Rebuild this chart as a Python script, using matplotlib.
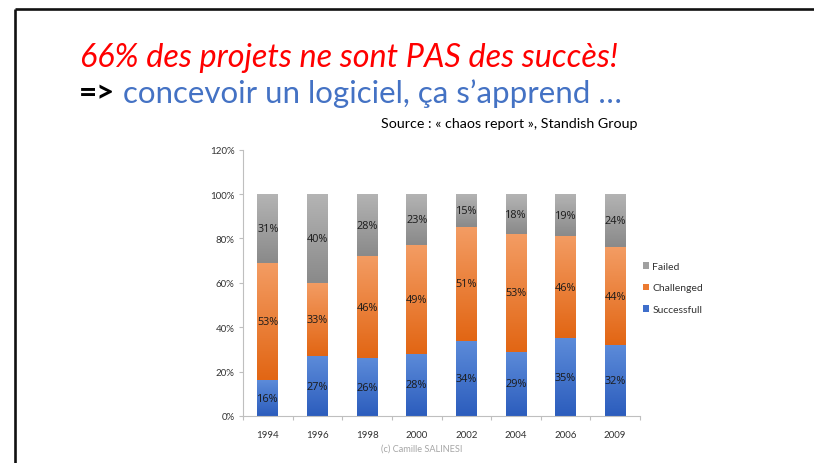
import matplotlib
matplotlib.use("Agg")
import matplotlib.pyplot as plt
import numpy as np
from matplotlib.lines import Line2D
from matplotlib.patches import Patch
from matplotlib.colors import LinearSegmentedColormap

years = ["1994", "1996", "1998", "2000", "2002", "2004", "2006", "2009"]
successful = [16, 27, 26, 28, 34, 29, 35, 32]
challenged = [53, 33, 46, 49, 51, 53, 46, 44]
failed = [31, 40, 28, 23, 15, 18, 19, 24]
series_names = ["Successfull", "Challenged", "Failed"]
yticks = [0, 20, 40, 60, 80, 100, 120]

FONT = "Lato"
plt.rcParams["font.family"] = [FONT, "DejaVu Sans"]

W, H = 814, 464
fig = plt.figure(figsize=(W / 100, H / 100), dpi=100)
fig.patch.set_facecolor("white")

# slide frame
lw = 1.9
fig.add_artist(Line2D([15 / W, 1.0], [1 - 9.5 / H, 1 - 9.5 / H], transform=fig.transFigure,
                      color="#111111", lw=lw, solid_capstyle="butt"))
fig.add_artist(Line2D([15 / W, 15 / W], [1 - 9.5 / H, 0.0], transform=fig.transFigure,
                      color="#111111", lw=lw, solid_capstyle="butt"))

ax = fig.add_axes([243 / W, (H - 417) / H, 397 / W, (417 - 150.7) / H])

x = np.arange(len(years))
s = np.array(successful) / 100
c = np.array(challenged) / 100
f = np.array(failed) / 100
bw = 0.42

grads = [("#5C8BD9", "#2C5DBD"), ("#F39C63", "#E26614"), ("#B4B4B4", "#8A8A8A")]
solid = ["#3F6FCB", "#EC7A30", "#A0A0A0"]
bottoms = [np.zeros_like(s), s, s + c]
vals = [s, c, f]
for vi, (v, b, (top, bot), sc) in enumerate(zip(vals, bottoms, grads, solid)):
    bars = ax.bar(x, v, bw, bottom=b, color=sc, edgecolor="none", zorder=2)
    cmap = LinearSegmentedColormap.from_list("g", [bot, top])
    grad = np.linspace(0, 1, 64).reshape(-1, 1)
    for rect, val, bb in zip(bars, v, b):
        x0 = rect.get_x()
        im = ax.imshow(grad, cmap=cmap, origin="lower", aspect="auto",
                       extent=[x0, x0 + rect.get_width(), bb, bb + val], zorder=2.5,
                       interpolation="bilinear")
        im.set_clip_path(rect)
        ax.text(rect.get_x() + rect.get_width() / 2, bb + val / 2, f"{round(val*100)}%",
                ha="center", va="center", fontsize=7.8, color="#1A1A1A", zorder=4,
                family=["Open Sans", "DejaVu Sans"])

ax.set_xlim(-0.5, len(years) - 0.5)
ax.set_ylim(0, 1.2)
ax.set_yticks([t / 100 for t in yticks])
ax.set_yticklabels([f"{t}%" for t in yticks], fontsize=7, color="#333333")
ax.set_xticks(x)
ax.set_xticklabels(years, fontsize=7, color="#333333")
ax.set_xticks(np.arange(-0.5, len(years)), minor=True)
ax.tick_params(axis="x", which="major", length=0, pad=10)
ax.tick_params(axis="x", which="minor", length=3, color="#BFBFBF", width=0.8)
ax.tick_params(axis="y", length=3, color="#BFBFBF", width=0.8, pad=3)
for sp in ["top", "right"]:
    ax.spines[sp].set_visible(False)
for sp in ["left", "bottom"]:
    ax.spines[sp].set_color("#BFBFBF")
    ax.spines[sp].set_linewidth(0.8)
ax.set_facecolor("none")

handles = [Patch(facecolor=solid[2]), Patch(facecolor=solid[1]), Patch(facecolor=solid[0])]
leg = fig.legend(handles, [series_names[2], series_names[1], series_names[0]],
                 loc="center left", bbox_to_anchor=(643 / W, 1 - 289 / H), frameon=False,
                 fontsize=7.5, handlelength=0.6, handleheight=0.6, handletextpad=0.3,
                 labelspacing=1.2, borderpad=0, borderaxespad=0)
for t in leg.get_texts():
    t.set_color("#333333")

# titles
fig.text(80 / W, 1 - 67 / H, "66% des projets ne sont PAS des succès!", color="#FF0000",
         fontsize=23.3, style="italic", ha="left", va="baseline")
t1 = fig.text(79 / W, 1 - 102.5 / H, "=>", color="black", fontsize=22.5, fontweight="bold",
              ha="left", va="baseline")
fig.canvas.draw()
bb = t1.get_window_extent()
fig.text((bb.x1 + 8) / W, 1 - 102.5 / H, "concevoir un logiciel, ça s’apprend …", color="#4472C4",
         fontsize=22.5, ha="left", va="baseline")
fig.text(381 / W, 1 - 124 / H, "Source : « chaos report », Standish Group", color="black",
         fontsize=10.3, ha="left", va="center")
fig.text(422 / W, 1 - 449 / H, "(c) Camille SALINESI", color="#A6A6A6", fontsize=6.6,
         ha="center", va="center")

fig.savefig("out.png", dpi=100, facecolor="white")
